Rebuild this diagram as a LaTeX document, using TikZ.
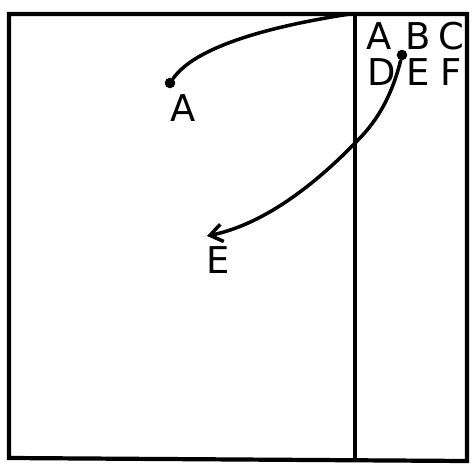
\documentclass[tikz,border=0pt]{standalone}
\usepackage{fontspec}
\setmainfont{DejaVu Sans}
\usetikzlibrary{arrows.meta}

\begin{document}
\begin{tikzpicture}[
      x=0.02cm, y=-0.02cm,
      letter/.style={font=\fontsize{21}{24}\selectfont, inner sep=0pt},
      dotmark/.style={circle, fill, inner sep=0pt, minimum size=6pt},
      frame/.style={line width=2.4pt},
      curve/.style={line width=2pt, line cap=round},
      arr/.style={curve, -{Straight Barb[length=7pt, width=10pt]}}
    ]
      \useasboundingbox (0,0) rectangle (471,473);
      \draw[frame] (9,14) -- (467,14) -- (467,461) -- (9,458) -- cycle;
      \coordinate (corner) at (350,14);
      \coordinate (divbot) at (355,460);
      \draw[frame] (355,14) -- (divbot);

      % letter grid on the right
      \node[letter] (gA) at (379,36) {A};
      \node[letter] (gB) at (418,36) {B};
      \node[letter] (gC) at (451,36) {C};
      \node[letter] (gD) at (382,72) {D};
      \node[letter] (gE) at (418,72) {E};
      \node[letter] (gF) at (451,72) {F};

      % picked letters
      \node[dotmark] (dotA) at (170,83) {};
      \node[letter] (lA) at (183,108) {A};
      \node[dotmark] (dotE) at (402,55) {};
      \node[letter] (lE) at (218,260) {E};
      \coordinate (tipE) at (207,236);
      \coordinate (cross) at (358,140);

      \draw[curve] (corner) .. controls (272,26) and (196,46) .. (dotA);
      \draw[arr] (dotE) .. controls (392,95) and (378,120) .. (cross)
        .. controls (310,190) and (260,225) .. (tipE);
    \end{tikzpicture}
\end{document}
